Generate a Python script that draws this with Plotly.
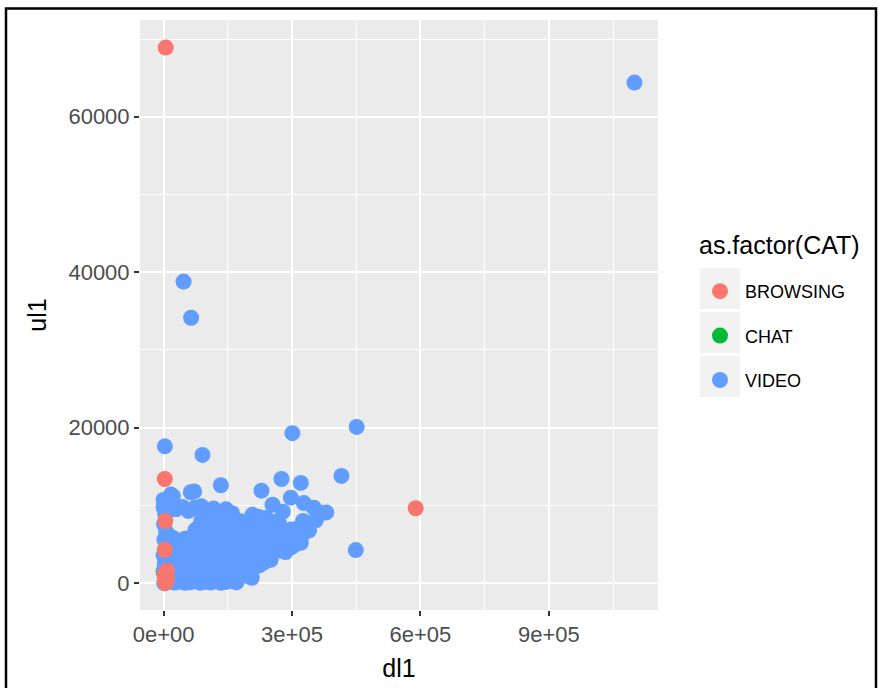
import plotly.graph_objects as go

# ---- data -------------------------------------------------------------
categories = ["BROWSING", "CHAT", "VIDEO"]
colors = {"BROWSING": "#F8766D", "CHAT": "#00BA38", "VIDEO": "#619CFF"}

browsing_dl1 = [5000, 589000, 3000, 4000, 3000, 4000, 8000, 2000, 8000, 3000, 6000]
browsing_ul1 = [68900, 9640, 13400, 8000, 4300, 0, 600, 1100, 1600, 400, 200]

chat_dl1 = [17000, 0, 12000]
chat_ul1 = [5900, 1500, 3000]

video_dl1 = [
    # heavy sessions
    1100000, 46700, 64400, 3000, 91000, 301000, 451000, 415600, 449000,
    # upper fringe of the cloud
    133800, 71500, 17000, 0, 22000, 228800, 275500, 320600, 297300, 254500,
    327600, 367300, 380000, 355600, 337000, 351000, 327600, 320600, 305000,
    278600, 207800, 238900, 222500, 63700,
    # 9-10k upload band
    29000, 44000, 58000, 73000, 88000, 102000, 117000, 131000, 146000, 160000,
    # near-zero download column
    0, 4000, 1000, 6000, 2000, 5000, 0, 3000, 1000, 4000, 2000,
    # ~8k upload
    88000, 103000, 118000, 133000, 148000, 163000, 178000, 193000, 255000,
    270000, 326000, 340000,
    # ~7k upload
    75000, 90000, 105000, 120000, 135000, 150000, 165000, 180000, 195000,
    210000, 225000, 240000, 255000, 270000, 283000, 298000, 312000, 326000,
    340000,
    # ~5.7k upload
    8000, 22000, 36000, 50000, 64000, 78000, 92000, 106000, 120000, 134000,
    148000, 162000, 176000, 190000, 204000, 218000, 232000, 246000, 260000,
    274000, 288000, 302000, 316000,
    # ~4.5k upload
    5000, 19000, 33000, 47000, 61000, 75000, 89000, 103000, 117000, 131000,
    145000, 159000, 173000, 187000, 201000, 215000, 229000, 243000, 257000,
    271000, 285000, 298000,
    # ~3.3k upload
    5000, 18000, 31000, 44000, 57000, 70000, 83000, 96000, 109000, 122000,
    135000, 148000, 161000, 174000, 187000, 200000, 213000, 226000, 239000,
    250000,
    # ~2.2k upload
    3000, 16000, 29000, 42000, 55000, 68000, 81000, 94000, 107000, 120000,
    133000, 146000, 159000, 172000, 185000, 198000, 211000, 224000, 236000,
    # ~1k upload
    4000, 17000, 30000, 43000, 56000, 69000, 82000, 95000, 108000, 121000,
    134000, 147000, 160000, 173000, 186000, 198000, 206000,
    # almost no upload
    2000, 14000, 26000, 38000, 50000, 62000, 74000, 86000, 98000, 110000,
    122000, 134000, 146000, 158000, 170000,
]
video_ul1 = [
    64400, 38800, 34150, 17600, 16500, 19300, 20100, 13800, 4260,
    12600, 11800, 11400, 10700, 11200, 11900, 13400, 12900, 11000, 10100,
    10300, 9000, 9100, 8100, 7200, 9700, 6450, 5200, 4900,
    9200, 8800, 8400, 8500, 11700,
    9500, 9800, 9300, 9700, 9900, 9400, 9600, 9200, 9500, 9000,
    9800, 8800, 7600, 6600, 5600, 4600, 3600, 2600, 1600, 600, 0,
    8000, 7800, 8100, 7900, 8200, 7700, 8000, 7800, 7900,
    7700, 8000, 7600,
    6900, 6600, 7000, 6700, 6900, 7100, 6600, 6800, 7000,
    6700, 6500, 6900, 7100, 6800, 6600, 6900, 7000, 6500,
    6800,
    5600, 5800, 5500, 5700, 5900, 5600, 5800, 5500, 5700, 5900,
    5600, 5800, 5500, 5700, 5900, 5600, 5800, 5500, 5700,
    5900, 5600, 5500, 5300,
    4500, 4400, 4700, 4600, 4300, 4500, 4800, 4400, 4600, 4700,
    4300, 4500, 4800, 4400, 4600, 4500, 4300, 4700, 4400,
    4200, 4000, 4600,
    3300, 3500, 3200, 3400, 3600, 3300, 3100, 3500, 3400, 3200,
    3600, 3300, 3500, 3200, 3400, 3600, 3300, 3100, 3400,
    3000,
    2200, 2000, 2300, 2100, 2400, 2200, 2000, 2300, 2100, 2400,
    2200, 2000, 2300, 2100, 2400, 2200, 2000, 2300, 2700,
    1000, 900, 1200, 1100, 800, 1000, 1200, 900, 1100, 1000,
    800, 1200, 900, 1100, 1000, 900, 700,
    0, 150, 80, 200, 50, 120, 300, 60, 180, 90,
    250, 40, 160, 310, 100,
]
assert len(video_dl1) == len(video_ul1)

x_tickvals = [0, 300000, 600000, 900000]
x_ticktext = ["0e+00", "3e+05", "6e+05", "9e+05"]
x_minor = [150000, 450000, 750000, 1050000]
y_tickvals = [0, 20000, 40000, 60000]
y_ticktext = ["0", "20000", "40000", "60000"]
y_minor = [10000, 30000, 50000, 70000]

series = {
    "BROWSING": (browsing_dl1, browsing_ul1),
    "CHAT": (chat_dl1, chat_ul1),
    "VIDEO": (video_dl1, video_ul1),
}

# ---- figure -----------------------------------------------------------
W, H = 878, 688
L, R, T, B = 140, 220, 20, 78
pw, ph = W - L - R, H - T - B


def px_x(p):
    return (p - L) / pw


def px_y(p):
    return (H - B - p) / ph


FONT = "Liberation Sans, Arial, sans-serif"

fig = go.Figure()
# chat underneath, browsing on top
for cat in ["CHAT", "VIDEO", "BROWSING"]:
    xs, ys = series[cat]
    fig.add_trace(go.Scatter(
        x=xs, y=ys, mode="markers", name=cat,
        legendgroup=cat, legendrank=categories.index(cat) + 1,
        marker=dict(color=colors[cat], size=16, line=dict(width=0)),
        hoverinfo="skip",
    ))

shapes = []
# grey key backgrounds of the legend
for i in range(3):
    top = 268 + i * 44
    shapes.append(dict(type="rect", xref="paper", yref="paper",
                       x0=px_x(700), x1=px_x(740),
                       y0=px_y(top + 41), y1=px_y(top),
                       fillcolor="#F2F2F2", line=dict(width=0), layer="below"))
# outer frame
shapes.append(dict(type="rect", xref="paper", yref="paper",
                   x0=px_x(6), x1=px_x(876), y0=px_y(700), y1=px_y(8.5),
                   line=dict(color="black", width=2.5), fillcolor="rgba(0,0,0,0)"))

axis_common = dict(
    showgrid=True, gridcolor="white", gridwidth=2,
    zeroline=False, showline=False, automargin=False,
    ticks="outside", ticklen=5, tickwidth=1.5, tickcolor="#333333",
    tickfont=dict(family=FONT, size=22, color="#4D4D4D"),
)

fig.update_layout(
    width=W, height=H, autosize=False,
    margin=dict(l=L, r=R, t=T, b=B),
    paper_bgcolor="white", plot_bgcolor="#EBEBEB",
    font=dict(family=FONT),
    xaxis=dict(
        range=[-55000, 1155000], tickvals=x_tickvals, ticktext=x_ticktext,
        minor=dict(tickvals=x_minor, showgrid=True, gridcolor="white", gridwidth=1, ticks=""),
        title=dict(text="dl1", font=dict(family=FONT, size=25, color="black"), standoff=13),
        **axis_common,
    ),
    yaxis=dict(
        range=[-3450, 72450], tickvals=y_tickvals, ticktext=y_ticktext,
        minor=dict(tickvals=y_minor, showgrid=True, gridcolor="white", gridwidth=1, ticks=""),
        title=dict(text="ul1", font=dict(family=FONT, size=25, color="black"), standoff=14),
        **axis_common,
    ),
    legend=dict(
        x=px_x(695), xanchor="left", y=px_y(273), yanchor="top",
        bgcolor="rgba(0,0,0,0)", borderwidth=0,
        font=dict(family=FONT, size=18, color="black"),
        itemwidth=40, itemsizing="trace", tracegroupgap=18,
        traceorder="grouped",
    ),
    shapes=shapes,
    annotations=[dict(
        text="as.factor(CAT)", xref="paper", yref="paper",
        x=px_x(697), y=px_y(245), xanchor="left", yanchor="middle",
        showarrow=False, font=dict(family=FONT, size=25, color="black"),
    )],
)

fig.write_html("out.html")
